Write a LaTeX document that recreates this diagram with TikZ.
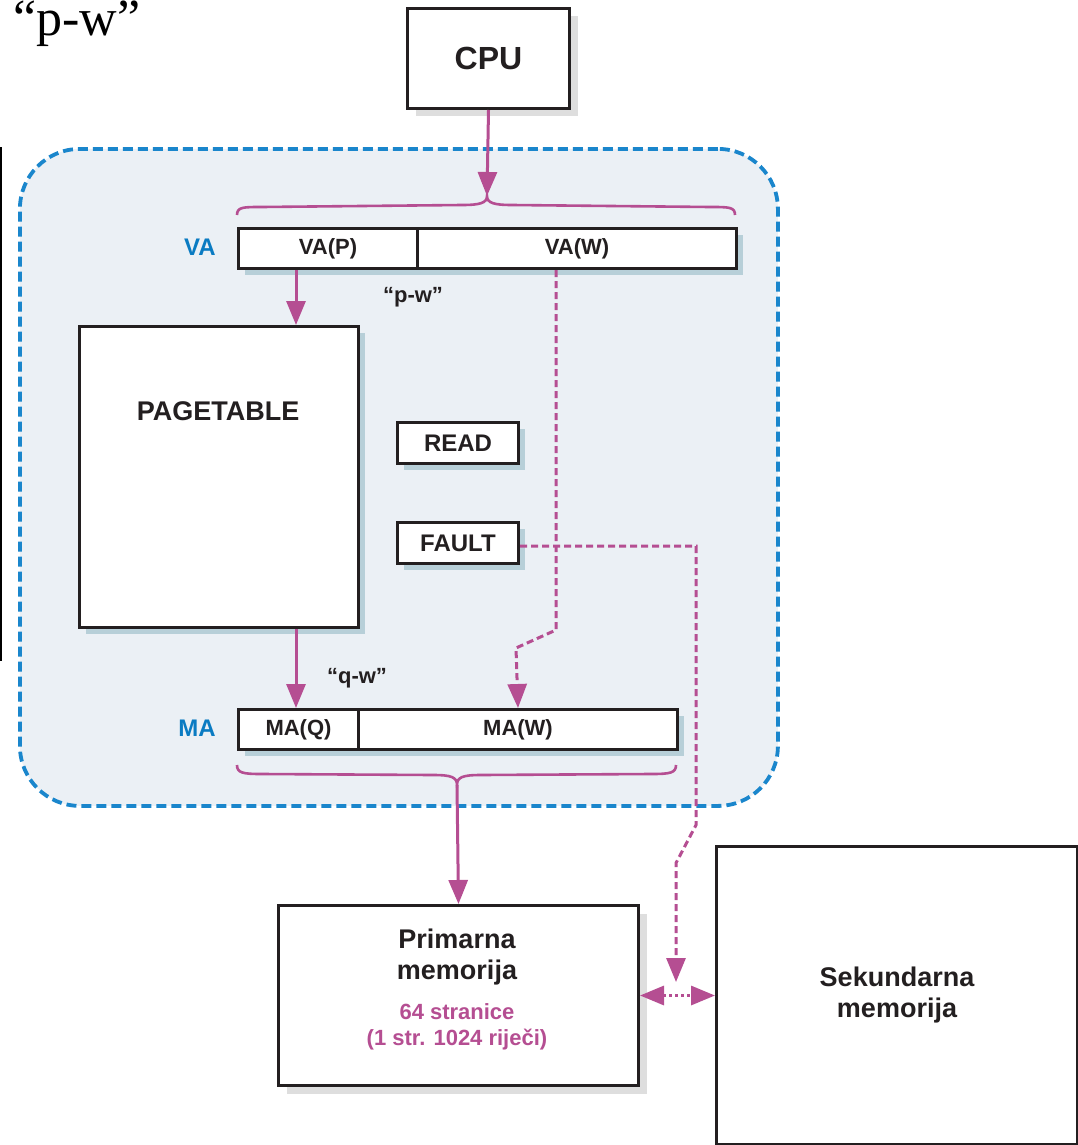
\documentclass[tikz,border=0pt]{standalone}
\usepackage{fontspec}
\setmainfont{Liberation Sans}
\newfontfamily\serifrm{Liberation Serif}
\usetikzlibrary{arrows.meta,shadows,calc}
\definecolor{mag}{RGB}{181,78,146}
\definecolor{ink}{RGB}{35,31,32}
\definecolor{vablue}{RGB}{10,123,194}
\definecolor{bdash}{RGB}{26,134,204}
\definecolor{bgfill}{RGB}{235,240,245}
\definecolor{shblue}{RGB}{183,207,216}
\definecolor{shgray}{RGB}{222,222,222}
\begin{document}
\begin{tikzpicture}[x=1pt,y=-1pt,
  box/.style={draw=ink, line width=3, fill=white, inner sep=0, anchor=north west, text=ink, font=\bfseries\fontsize{24}{28}\selectfont},
  ishadow/.style={drop shadow={shadow xshift=6pt, shadow yshift=-6pt, fill=shblue, opacity=1}},
  oshadow/.style={drop shadow={shadow xshift=8pt, shadow yshift=-8pt, fill=shgray, opacity=1}},
  barfont/.style={font=\bfseries\fontsize{22}{26}\selectfont},
  lbl/.style={inner sep=0, text=ink, font=\bfseries\fontsize{22}{26}\selectfont},
  bluelbl/.style={inner sep=0, text=vablue, font=\bfseries\fontsize{24}{28}\selectfont},
  arr/.style={draw=mag, line width=3, -{Triangle[length=24pt,width=19pt]}},
  magdash/.style={draw=mag, line width=3, dash pattern=on 7pt off 4pt, -{Triangle[length=24pt,width=19pt]}},
  magdot/.style={draw=mag, line width=3.2, dash pattern=on 3pt off 3pt, {Triangle[length=24pt,width=19pt]}-{Triangle[length=24pt,width=19pt]}},
  brace/.style={draw=mag, line width=2.6},
]
\useasboundingbox (0,0) rectangle (1078,1145);

% top-left label
\node[anchor=base west, inner sep=0, text=black, font=\serifrm\fontsize{52}{56}\selectfont] (pwtitle) at (13,36) {“p-w”};
% thin left rule
\draw[line width=1.6, black] (1,147) -- (1,661);

% virtual memory region
\node[draw=bdash, fill=bgfill, line width=3.8, dash pattern=on 10pt off 5pt, rounded corners=60, minimum width=758, minimum height=657, anchor=north west, inner sep=0] (vmem) at (18,147) {};

% CPU
\node[box, oshadow, minimum width=162, minimum height=100, font=\bfseries\fontsize{32}{36}\selectfont] (cpu) at (406,7) {CPU};

% VA bar
\node[box, ishadow, minimum width=179, minimum height=40, barfont] (vap) at (237,227) {VA(P)};
\node[box, ishadow, minimum width=319, minimum height=40, barfont] (vaw) at (416,227) {VA(W)};
\node[bluelbl] (valbl) at (200,247) {VA};
\node[lbl] (pwlbl) at (413,297) {“p-w”};

% top brace
\coordinate (vatip) at (487,196);
\draw[brace] (237,215) .. controls (237,207) and (243,207) .. (262,207) -- (462,205) .. controls (480,205) and (487,203) .. (vatip) .. controls (487,203) and (494,205) .. (512,205) -- (710,207) .. controls (729,207) and (735,207) .. (735,215);
\draw[arr] (cpu.south) -- (vatip);

% PAGETABLE
\node[box, ishadow, minimum width=279, minimum height=301] (pt) at (78,325) {};
\node[inner sep=0, text=ink, font=\bfseries\fontsize{27}{30}\selectfont] (pttxt) at (218,411) {PAGETABLE};

% READ / FAULT
\node[box, ishadow, minimum width=121, minimum height=41] (read) at (396,421) {READ};
\node[box, ishadow, minimum width=121, minimum height=41] (fault) at (396,521) {FAULT};

% MA bar
\node[box, ishadow, minimum width=120, minimum height=40, barfont] (maq) at (237,708) {MA(Q)};
\node[box, ishadow, minimum width=319, minimum height=40, barfont] (maw) at (357,708) {MA(W)};
\node[bluelbl] (malbl) at (197,728) {MA};
\node[lbl] (qwlbl) at (357,678) {“q-w”};

% bottom brace
\coordinate (matip) at (457,785);
\draw[brace] (237,765) .. controls (237,773) and (243,774) .. (262,774) -- (433,775) .. controls (451,775) and (457,777) .. (matip) .. controls (457,777) and (463,775) .. (481,775) -- (651,774) .. controls (670,774) and (676,773) .. (676,765);

% Primarna / Sekundarna memorija
\node[box, oshadow, minimum width=360, minimum height=180] (prim) at (277,904) {};
\node[inner sep=0, text=ink, align=center, font=\bfseries\fontsize{27}{31}\selectfont] (primtxt) at (457,957) {Primarna\\memorija};
\node[inner sep=0, text=mag, align=center, font=\bfseries\fontsize{22}{26}\selectfont] (primsub) at (457,1027) {64 stranice\\(1 str. 1024 riječi)};
\node[box, minimum width=361, minimum height=298, align=center, font=\bfseries\fontsize{27}{31}\selectfont] (sek) at (715,845) {Sekundarna\\memorija};

% arrows
\draw[arr] ([xshift=59]vap.south west) -- ([xshift=59]vap.south west |- pt.north);
\draw[arr] ([xshift=218]pt.south west) -- ([xshift=218]pt.south west |- maq.north);
\draw[magdash] ([xshift=140]vaw.south west) -- ++(0,360) -- ++(-40,18) -- (maw.north);
\coordinate (fbend) at (696,825);
\coordinate (fend) at (676,982);
\draw[magdash] ([yshift=-3]fault.east) -| (fbend) -- ++(-20,38) -- (fend);
\draw[arr] (matip) -- (prim.north);
\draw[magdot] (prim.east) -- (sek.west |- prim.east);
\end{tikzpicture}
\end{document}
